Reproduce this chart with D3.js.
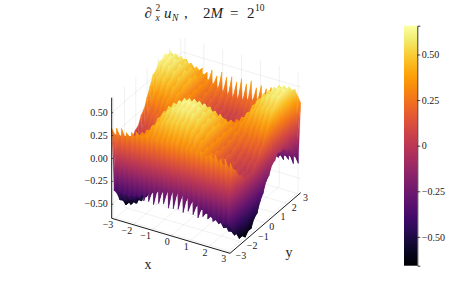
<!DOCTYPE html>
<html>
<head>
<meta charset="utf-8">
<script src="https://cdn.jsdelivr.net/npm/d3@7"></script>
<style>
  html, body { margin: 0; padding: 0; background: #fff; }
  svg { display: block; }
  text { font-family: "Liberation Serif", serif; fill: #222; }
</style>
</head>
<body>
<svg id="chart" width="449" height="299"></svg>
<script>
const xTicks = [-3, -2, -1, 0, 1, 2, 3];
const yTicks = [-3, -2, -1, 0, 1, 2, 3];
const zTicks = [-0.5, -0.25, 0, 0.25, 0.5];
const zTickLabels = ['−0.50', '−0.25', '0.00', '0.25', '0.50'];
const barTickLabels = ['−0.50', '−0.25', '0', '0.25', '0.50'];

const xs = [-3.14, -3.01, -2.88, -2.75, -2.62, -2.49, -2.36, -2.23, -2.09, -1.96,
  -1.83, -1.70, -1.57, -1.44, -1.31, -1.18, -1.05, -0.92, -0.79, -0.65,
  -0.52, -0.39, -0.26, -0.13, 0, 0.13, 0.26, 0.39, 0.52, 0.65,
  0.79, 0.92, 1.05, 1.18, 1.31, 1.44, 1.57, 1.70, 1.83, 1.96,
  2.09, 2.23, 2.36, 2.49, 2.62, 2.75, 2.88, 3.01, 3.14];
const ys = [-3.14, -2.88, -2.62, -2.36, -2.09, -1.83, -1.57, -1.31, -1.05, -0.79, -0.52, -0.26, 0,
  0.26, 0.52, 0.79, 1.05, 1.31, 1.57, 1.83, 2.09, 2.36, 2.62, 2.88, 3.14];

// one row per y value (teeth go up and down along x)
const zRows = [
  [.33,-.34,.35,-.33,.36,-.35,.33,-.36,.35,-.34, .37,-.33,.34,-.36,.36,-.35,.33,-.37,.35,-.34, .36,-.33,.34,-.36,.35,-.35,.37,-.34,.33,-.36, .35,-.33,.36,-.35,.34,-.37,.36,-.34,.33,-.35, .35,-.36,.37,-.34,.34,-.35,.36,-.33,.34],
  [.24,-.40,.24,-.39,.25,-.38,.26,-.37,.28,-.35, .30,-.33,.32,-.31,.36,-.29,.39,-.27,.40,-.26, .41,-.25,.43,-.24,.43,-.24,.43,-.25,.41,-.26, .40,-.27,.39,-.29,.36,-.31,.32,-.33,.30,-.35, .28,-.37,.26,-.38,.25,-.39,.24,-.40,.24],
  [.20,-.50,.20,-.49,.22,-.47,.24,-.44,.27,-.41, .31,-.37,.35,-.33,.41,-.29,.46,-.26,.48,-.23, .51,-.21,.52,-.20,.53,-.20,.52,-.21,.51,-.23, .48,-.26,.46,-.29,.41,-.33,.35,-.37,.31,-.41, .27,-.44,.24,-.47,.22,-.49,.20,-.50,.20],
  [.11,-.53,.11,-.52,.13,-.49,.17,-.45,.21,-.40, .26,-.35,.32,-.29,.39,-.24,.45,-.19,.50,-.15, .53,-.12,.54,-.11,.55,-.11,.54,-.12,.53,-.15, .50,-.19,.45,-.24,.39,-.29,.32,-.35,.26,-.40, .21,-.45,.17,-.49,.13,-.52,.11,-.53,.11],
  [.09,-.61,.10,-.59,.12,-.56,.16,-.51,.22,-.45, .28,-.38,.35,-.32,.44,-.25,.51,-.19,.56,-.14, .60,-.11,.61,-.09,.62,-.09,.61,-.11,.60,-.14, .56,-.19,.51,-.25,.44,-.32,.35,-.38,.28,-.45, .22,-.51,.16,-.56,.12,-.59,.10,-.61,.09],
  [.03,-.61,.04,-.59,.07,-.55,.11,-.50,.17,-.43, .24,-.36,.32,-.28,.43,-.21,.49,-.14,.54,-.09, .58,-.05,.61,-.03,.61,-.03,.61,-.05,.58,-.09, .54,-.14,.49,-.21,.43,-.28,.32,-.36,.24,-.43, .17,-.50,.11,-.55,.07,-.59,.04,-.61,.03],
  [.05,-.65,.06,-.63,.09,-.59,.14,-.53,.20,-.46, .27,-.39,.35,-.31,.46,-.24,.53,-.17,.58,-.11, .62,-.07,.64,-.05,.65,-.05,.64,-.07,.62,-.11, .58,-.17,.53,-.24,.46,-.31,.35,-.39,.27,-.46, .20,-.53,.14,-.59,.09,-.63,.06,-.65,.05],
  [.03,-.61,.04,-.59,.07,-.55,.11,-.50,.17,-.43, .24,-.36,.32,-.28,.43,-.21,.49,-.14,.54,-.09, .58,-.05,.61,-.03,.61,-.03,.61,-.05,.58,-.09, .54,-.14,.49,-.21,.43,-.28,.32,-.36,.24,-.43, .17,-.50,.11,-.55,.07,-.59,.04,-.61,.03],
  [.09,-.61,.10,-.59,.12,-.56,.16,-.51,.22,-.45, .28,-.38,.35,-.32,.44,-.25,.51,-.19,.56,-.14, .60,-.11,.61,-.09,.62,-.09,.61,-.11,.60,-.14, .56,-.19,.51,-.25,.44,-.32,.35,-.38,.28,-.45, .22,-.51,.16,-.56,.12,-.59,.10,-.61,.09],
  [.11,-.53,.11,-.52,.13,-.49,.17,-.45,.21,-.40, .26,-.35,.32,-.29,.39,-.24,.45,-.19,.50,-.15, .53,-.12,.54,-.11,.55,-.11,.54,-.12,.53,-.15, .50,-.19,.45,-.24,.39,-.29,.32,-.35,.26,-.40, .21,-.45,.17,-.49,.13,-.52,.11,-.53,.11],
  [.20,-.50,.20,-.49,.22,-.47,.24,-.44,.27,-.41, .31,-.37,.35,-.33,.41,-.29,.46,-.26,.48,-.23, .51,-.21,.52,-.20,.53,-.20,.52,-.21,.51,-.23, .48,-.26,.46,-.29,.41,-.33,.35,-.37,.31,-.41, .27,-.44,.24,-.47,.22,-.49,.20,-.50,.20],
  [.24,-.40,.24,-.39,.25,-.38,.26,-.37,.28,-.35, .30,-.33,.32,-.31,.36,-.29,.39,-.27,.40,-.26, .41,-.25,.43,-.24,.43,-.24,.43,-.25,.41,-.26, .40,-.27,.39,-.29,.36,-.31,.32,-.33,.30,-.35, .28,-.37,.26,-.38,.25,-.39,.24,-.40,.24],
  [.34,-.35,.36,-.34,.35,-.36,.34,-.35,.36,-.34, .35,-.36,.34,-.35,.36,-.34,.35,-.35,.34,-.36, .36,-.34,.35,-.35,.34,-.36,.35,-.34,.36,-.35, .34,-.35,.35,-.36,.36,-.34,.34,-.35,.35,-.36, .36,-.34,.35,-.35,.34,-.36,.36,-.34,.35],
  [.43,-.24,.43,-.25,.41,-.26,.40,-.27,.39,-.29, .36,-.31,.32,-.33,.30,-.35,.28,-.37,.26,-.38, .25,-.39,.24,-.40,.24,-.40,.24,-.39,.25,-.38, .26,-.37,.28,-.35,.30,-.33,.32,-.31,.36,-.29, .39,-.27,.40,-.26,.41,-.25,.43,-.24,.43],
  [.53,-.20,.52,-.21,.51,-.23,.48,-.26,.46,-.29, .41,-.33,.35,-.37,.31,-.41,.27,-.44,.24,-.47, .22,-.49,.20,-.50,.20,-.50,.20,-.49,.22,-.47, .24,-.44,.27,-.41,.31,-.37,.35,-.33,.41,-.29, .46,-.26,.48,-.23,.51,-.21,.52,-.20,.53],
  [.55,-.11,.54,-.12,.53,-.15,.50,-.19,.45,-.24, .39,-.29,.32,-.35,.26,-.40,.21,-.45,.17,-.49, .13,-.52,.11,-.53,.11,-.53,.11,-.52,.13,-.49, .17,-.45,.21,-.40,.26,-.35,.32,-.29,.39,-.24, .45,-.19,.50,-.15,.53,-.12,.54,-.11,.55],
  [.62,-.09,.61,-.11,.60,-.14,.56,-.19,.51,-.25, .44,-.32,.35,-.38,.28,-.45,.22,-.51,.16,-.56, .12,-.59,.10,-.61,.09,-.61,.10,-.59,.12,-.56, .16,-.51,.22,-.45,.28,-.38,.35,-.32,.44,-.25, .51,-.19,.56,-.14,.60,-.11,.61,-.09,.62],
  [.61,-.03,.61,-.05,.58,-.09,.54,-.14,.49,-.21, .43,-.28,.32,-.36,.24,-.43,.17,-.50,.11,-.55, .07,-.59,.04,-.61,.03,-.61,.04,-.59,.07,-.55, .11,-.50,.17,-.43,.24,-.36,.32,-.28,.43,-.21, .49,-.14,.54,-.09,.58,-.05,.61,-.03,.61],
  [.65,-.05,.64,-.07,.62,-.11,.58,-.17,.53,-.24, .46,-.31,.35,-.39,.27,-.46,.20,-.53,.14,-.59, .09,-.63,.06,-.65,.05,-.65,.06,-.63,.09,-.59, .14,-.53,.20,-.46,.27,-.39,.35,-.31,.46,-.24, .53,-.17,.58,-.11,.62,-.07,.64,-.05,.65],
  [.61,-.03,.61,-.05,.58,-.09,.54,-.14,.49,-.21, .43,-.28,.32,-.36,.24,-.43,.17,-.50,.11,-.55, .07,-.59,.04,-.61,.03,-.61,.04,-.59,.07,-.55, .11,-.50,.17,-.43,.24,-.36,.32,-.28,.43,-.21, .49,-.14,.54,-.09,.58,-.05,.61,-.03,.61],
  [.62,-.09,.61,-.11,.60,-.14,.56,-.19,.51,-.25, .44,-.32,.35,-.38,.28,-.45,.22,-.51,.16,-.56, .12,-.59,.10,-.61,.09,-.61,.10,-.59,.12,-.56, .16,-.51,.22,-.45,.28,-.38,.35,-.32,.44,-.25, .51,-.19,.56,-.14,.60,-.11,.61,-.09,.62],
  [.55,-.11,.54,-.12,.53,-.15,.50,-.19,.45,-.24, .39,-.29,.32,-.35,.26,-.40,.21,-.45,.17,-.49, .13,-.52,.11,-.53,.11,-.53,.11,-.52,.13,-.49, .17,-.45,.21,-.40,.26,-.35,.32,-.29,.39,-.24, .45,-.19,.50,-.15,.53,-.12,.54,-.11,.55],
  [.53,-.20,.52,-.21,.51,-.23,.48,-.26,.46,-.29, .41,-.33,.35,-.37,.31,-.41,.27,-.44,.24,-.47, .22,-.49,.20,-.50,.20,-.50,.20,-.49,.22,-.47, .24,-.44,.27,-.41,.31,-.37,.35,-.33,.41,-.29, .46,-.26,.48,-.23,.51,-.21,.52,-.20,.53],
  [.43,-.24,.43,-.25,.41,-.26,.40,-.27,.39,-.29, .36,-.31,.32,-.33,.30,-.35,.28,-.37,.26,-.38, .25,-.39,.24,-.40,.24,-.40,.24,-.39,.25,-.38, .26,-.37,.28,-.35,.30,-.33,.32,-.31,.36,-.29, .39,-.27,.40,-.26,.41,-.25,.43,-.24,.43],
  [.37,-.34,.34,-.36,.38,-.33,.35,-.35,.39,-.34, .36,-.33,.40,-.36,.35,-.34,.41,-.35,.37,-.33, .39,-.36,.35,-.34,.40,-.35,.36,-.33,.41,-.36, .35,-.34,.39,-.35,.37,-.33,.40,-.36,.35,-.34, .38,-.35,.34,-.33,.37,-.36,.35,-.34,.33]
];

const svg = d3.select('#chart');
const defs = svg.append('defs');
const color = d3.scaleSequential(d3.interpolateInferno).domain([-0.658, 0.658]);

// orthographic box, corners
const xToPx = d3.scaleLinear().domain([-3.14, 3.14]).range([0, 118.3]);
const xToPy = d3.scaleLinear().domain([-3.14, 3.14]).range([0, 35]);
const yToPx = d3.scaleLinear().domain([-3.14, 3.14]).range([0, 70.7]);
const yToPy = d3.scaleLinear().domain([-3.14, 3.14]).range([0, -60.6]);
const zToPy = d3.scaleLinear().domain([-0.653, 0.664]).range([0, -120.6]);
const zMin = -0.653, zMax = 0.664, lo = -3.14, hi = 3.14;

const project = (x, y, z) => [
  111.7 + xToPx(x) + yToPx(y),
  218.3 + xToPy(x) + yToPy(y) + zToPy(z)
];

function segment(g, a, b, stroke, width) {
  g.append('line')
    .attr('x1', a[0]).attr('y1', a[1])
    .attr('x2', b[0]).attr('y2', b[1])
    .attr('stroke', stroke)
    .attr('stroke-width', width);
}

// back walls and floor
const grid = svg.append('g');
const gridColor = 'rgba(0,0,0,0.1)';
xTicks.forEach(x => {
  segment(grid, project(x, lo, zMin), project(x, hi, zMin), gridColor, 0.6);
  segment(grid, project(x, hi, zMin), project(x, hi, zMax), gridColor, 0.6);
});
yTicks.forEach(y => {
  segment(grid, project(lo, y, zMin), project(hi, y, zMin), gridColor, 0.6);
  segment(grid, project(lo, y, zMin), project(lo, y, zMax), gridColor, 0.6);
});
zTicks.forEach(z => {
  segment(grid, project(lo, lo, z), project(lo, hi, z), gridColor, 0.6);
  segment(grid, project(lo, hi, z), project(hi, hi, z), gridColor, 0.6);
});

// one triangle with a gradient that follows z across it
const surface = svg.append('g');
const stopOffsets = [0, 0.25, 0.5, 0.75, 1];
let gradId = 0;
function triangle(verts) {
  const pts = verts.map(v => project(v[0], v[1], v[2]));
  const zs = verts.map(v => v[2]);
  const d2x = pts[1][0] - pts[0][0], d2y = pts[1][1] - pts[0][1];
  const d3x = pts[2][0] - pts[0][0], d3y = pts[2][1] - pts[0][1];
  const dz2 = zs[1] - zs[0], dz3 = zs[2] - zs[0];
  const det = d2x * d3y - d2y * d3x;
  const gx = (dz2 * d3y - dz3 * d2y) / det;
  const gy = (d2x * dz3 - d3x * dz2) / det;
  const gg = gx * gx + gy * gy;

  let paint;
  if (Math.abs(det) < 0.01 || gg < 1e-9) {
    paint = color(d3.mean(zs));
  } else {
    const low = d3.minIndex(zs), zLow = zs[low], zHigh = d3.max(zs);
    const len = (zHigh - zLow) / gg;
    const id = 't' + gradId++;
    const grad = defs.append('linearGradient')
      .attr('id', id)
      .attr('gradientUnits', 'userSpaceOnUse')
      .attr('x1', pts[low][0]).attr('y1', pts[low][1])
      .attr('x2', pts[low][0] + gx * len).attr('y2', pts[low][1] + gy * len);
    stopOffsets.forEach(t => {
      grad.append('stop')
        .attr('offset', t)
        .attr('stop-color', color(zLow + (zHigh - zLow) * t));
    });
    paint = `url(#${id})`;
  }
  surface.append('path')
    .attr('d', d3.line()(pts) + 'Z')
    .attr('fill', paint)
    .attr('stroke', paint)
    .attr('stroke-width', 0.25);
}

// painted from the far corner to the near one
for (let j = ys.length - 2; j >= 0; j--) {
  for (let i = 0; i < xs.length - 1; i++) {
    const a = [xs[i], ys[j], zRows[j][i]];
    const b = [xs[i], ys[j + 1], zRows[j + 1][i]];
    const c = [xs[i + 1], ys[j + 1], zRows[j + 1][i + 1]];
    const d = [xs[i + 1], ys[j], zRows[j][i + 1]];
    triangle([a, b, c]);
    triangle([a, c, d]);
  }
}

// axes
const axes = svg.append('g');
segment(axes, project(lo, lo, zMin), project(hi, lo, zMin), '#000', 0.9);
segment(axes, project(hi, lo, zMin), project(hi, hi, zMin), '#000', 0.9);
segment(axes, project(lo, lo, zMin), project(lo, lo, zMax), '#000', 0.9);

xTicks.forEach(x => {
  const p = project(x, lo, zMin);
  axes.append('text').attr('x', p[0] - 1).attr('y', p[1] + 9)
    .attr('text-anchor', 'end').attr('font-size', 10)
    .text(String(x).replace('-', '−'));
});
yTicks.forEach(y => {
  const p = project(hi, y, zMin);
  axes.append('text').attr('x', p[0] + 4).attr('y', p[1] + 7)
    .attr('font-size', 10)
    .text(String(y).replace('-', '−'));
});
zTicks.forEach((z, i) => {
  const p = project(lo, lo, z);
  segment(axes, p, [p[0] + 1.5, p[1]], '#000', 0.6);
  axes.append('text').attr('x', p[0] - 4).attr('y', p[1] + 3)
    .attr('text-anchor', 'end').attr('font-size', 10)
    .text(zTickLabels[i]);
});
axes.append('text').attr('x', 148).attr('y', 269)
  .attr('text-anchor', 'middle').attr('font-size', 14).text('x');
axes.append('text').attr('x', 289).attr('y', 257)
  .attr('text-anchor', 'middle').attr('font-size', 14).text('y');

// title, placed piece by piece
const title = svg.append('g').attr('font-size', 15);
[
  { t: '∂', x: 144.5, y: 18 },
  { t: '2', x: 155.5, y: 11, s: 9.5 },
  { t: 'x', x: 155.5, y: 21, s: 9.5, i: true },
  { t: 'u', x: 164, y: 18, i: true },
  { t: 'N', x: 172, y: 21, s: 9.5, i: true },
  { t: ',', x: 184, y: 18 },
  { t: '2', x: 203, y: 18 },
  { t: 'M', x: 210.5, y: 18, i: true },
  { t: '=', x: 230, y: 18 },
  { t: '2', x: 247, y: 18 },
  { t: '10', x: 255, y: 11, s: 9.5 }
].forEach(p => {
  title.append('text')
    .attr('x', p.x).attr('y', p.y)
    .attr('font-size', p.s || null)
    .attr('font-style', p.i ? 'italic' : null)
    .text(p.t);
});

// colorbar
const barScale = d3.scaleLinear().domain([-0.658, 0.658]).range([265.7, 25.7]);
const barGrad = defs.append('linearGradient')
  .attr('id', 'barGrad')
  .attr('x1', 0).attr('y1', 1).attr('x2', 0).attr('y2', 0);
d3.range(0, 1.001, 0.05).forEach(t => {
  barGrad.append('stop').attr('offset', t).attr('stop-color', d3.interpolateInferno(t));
});
svg.append('rect')
  .attr('x', 404).attr('y', 25.7)
  .attr('width', 13.3).attr('height', 240)
  .attr('fill', 'url(#barGrad)');

const barAxis = svg.append('g')
  .attr('transform', 'translate(417.3,0)')
  .call(d3.axisRight(barScale)
    .tickValues(zTicks)
    .tickSize(3)
    .tickPadding(1.5)
    .tickFormat((d, i) => barTickLabels[i]));
barAxis.select('.domain').attr('stroke', '#000').attr('stroke-width', 0.8);
barAxis.selectAll('line').attr('stroke', '#000').attr('stroke-width', 0.7);
barAxis.selectAll('text').attr('font-size', 10).attr('font-family', '"Liberation Serif", serif').attr('fill', '#222');
</script>
</body>
</html>
